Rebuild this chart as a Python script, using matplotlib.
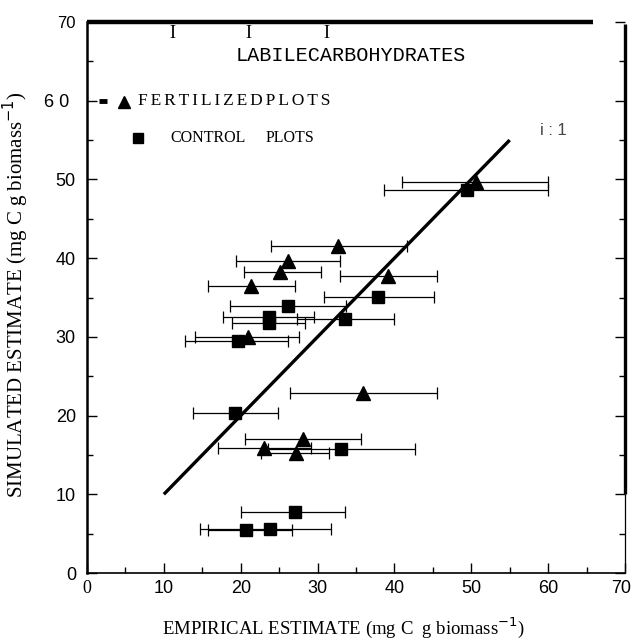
import matplotlib
matplotlib.use("Agg")
import matplotlib.pyplot as plt
from matplotlib.ticker import MultipleLocator
from matplotlib.transforms import ScaledTranslation

# ---- data (mg C g biomass^-1) ----
fert_x = [50.6, 32.7, 26.1, 25.1, 39.2, 21.4, 20.9, 35.9, 28.1, 23.0, 27.2]
fert_y = [49.7, 41.5, 39.6, 38.2, 37.7, 36.4, 30.0, 22.9, 17.0, 15.9, 15.2]
fert_lo = [41.0, 24.0, 19.4, 20.4, 32.9, 15.8, 14.1, 26.4, 20.5, 17.1, 22.7]
fert_hi = [60.0, 41.6, 32.9, 30.5, 45.6, 27.0, 27.6, 45.5, 35.6, 29.1, 31.5]

ctrl_x = [49.4, 37.9, 26.1, 23.7, 23.7, 33.6, 19.6, 19.3, 33.0, 27.0, 20.7, 23.8]
ctrl_y = [48.7, 35.1, 33.9, 32.5, 31.8, 32.3, 29.5, 20.3, 15.8, 7.8, 5.4, 5.6]
ctrl_lo = [38.6, 30.8, 18.6, 17.7, 18.9, 27.3, 12.7, 13.8, 23.5, 20.1, 15.8, 14.7]
ctrl_hi = [60.0, 45.2, 33.7, 29.6, 28.4, 40.0, 26.2, 24.9, 42.7, 33.6, 26.7, 31.8]

one_to_one = [10, 55]

x_ticks = [0, 10, 20, 30, 40, 50, 60, 70]
x_ticklabels = ["0", "10", "20", "30", "40", "50", "60", "70"]
y_ticks = [0, 10, 20, 30, 40, 50, 60, 70]
y_ticklabels = ["0", "10", "20", "30", "40", "50", "6 0", "70"]

serif = "Liberation Serif"
sans = "Liberation Sans"
mono = "Liberation Mono"

fig = plt.figure(figsize=(6.31, 6.40), dpi=100)
ax = fig.add_axes([87 / 631, 1 - 573 / 640, (625 - 87) / 631, (573 - 22) / 640])
ax.set_xlim(0, 70)
ax.set_ylim(0, 70)

# error bars
def xerr(xs, lo, hi):
    return [[x - l for x, l in zip(xs, lo)], [h - x for x, h in zip(xs, hi)]]

ax.errorbar(fert_x, fert_y, xerr=xerr(fert_x, fert_lo, fert_hi), fmt="none",
            ecolor="black", elinewidth=0.9, capsize=4, capthick=0.9, zorder=2)
ax.errorbar(ctrl_x, ctrl_y, xerr=xerr(ctrl_x, ctrl_lo, ctrl_hi), fmt="none",
            ecolor="black", elinewidth=0.9, capsize=4, capthick=0.9, zorder=2)

# 1:1 line
ax.plot(one_to_one, one_to_one, color="black", lw=2.4, zorder=3, solid_capstyle="butt")

ax.plot(fert_x, fert_y, linestyle="none", marker="^", markersize=9.5,
        color="black", zorder=4)
ax.plot(ctrl_x, ctrl_y, linestyle="none", marker="s", markersize=8,
        color="black", zorder=4)

# spines
ax.spines["top"].set_visible(False)
ax.spines["right"].set_visible(False)
ax.spines["left"].set_linewidth(1.8)
ax.spines["bottom"].set_linewidth(1.2)
ax.plot([0, 65.8], [70, 70], color="black", lw=3.2, clip_on=False, solid_capstyle="butt")
ax.plot([70, 70], [10, 69.7], color="black", lw=2.4, clip_on=False, solid_capstyle="butt")
ax.plot([70, 70], [0, 10], color="black", lw=0.9, clip_on=False, solid_capstyle="butt")

# ticks
ax.set_xticks(x_ticks)
ax.set_xticklabels(x_ticklabels)
ax.set_yticks(y_ticks)
ax.set_yticklabels(y_ticklabels)
ax.xaxis.set_minor_locator(MultipleLocator(5))
ax.yaxis.set_minor_locator(MultipleLocator(5))
ax.tick_params(which="both", direction="in", top=False, right=True)
ax.tick_params(which="major", length=7, width=1.0)
ax.tick_params(which="minor", length=4, width=1.0)
ax.tick_params(axis="x", pad=5)
ax.tick_params(axis="y", pad=8)
for lab in ax.get_xticklabels() + ax.get_yticklabels():
    lab.set_fontfamily(sans)
    lab.set_fontsize(13)
ax.get_xticklabels()[0].set_fontfamily(serif)
ax.get_yticklabels()[-1].set_fontsize(12)
xl70 = ax.get_xticklabels()[-1]
xl70.set_transform(xl70.get_transform() + ScaledTranslation(-4 / 100, 0, fig.dpi_scale_trans))
yl60 = ax.get_yticklabels()[-2]
yl60.set_transform(yl60.get_transform() + ScaledTranslation(-7 / 100, 0, fig.dpi_scale_trans))

ax.set_xlabel("EMPIRICAL ESTIMATE (mg C  g biomass$^{-1}$)", fontfamily=serif,
              fontsize=13.5, labelpad=11)
ax.xaxis.set_label_coords(0.476, -0.077)
ax.set_ylabel("SIMULATED ESTIMATE (mg C g biomass$^{-1}$)", fontfamily=serif,
              fontsize=15)
ax.yaxis.set_label_coords(-0.104, 0.506)

# annotations
ax.text(34.3, 65.8, "LABILECARBOHYDRATES", fontfamily=mono, fontsize=14.5,
        ha="center", va="center")
ax.plot([1.5, 2.6], [60, 60], color="black", lw=3.5, clip_on=False,
        solid_capstyle="butt")
ax.plot([4.8], [59.9], marker="^", markersize=8.5, color="black", linestyle="none")
ax.text(6.6, 60, "\u2006".join("FERTILIZEDPLOTS"), fontfamily=[serif, "DejaVu Serif"],
        fontsize=12.5, ha="left", va="center")
ax.plot([6.7], [55.2], marker="s", markersize=7, color="black", linestyle="none")
ax.text(10.8, 55.2, "CONTROL", fontfamily=serif, fontsize=11.5, ha="left", va="center")
ax.text(23.2, 55.2, "PLOTS", fontfamily=serif, fontsize=11.5, ha="left", va="center")
ax.text(60.7, 56.2, "i : 1", fontfamily=sans, fontsize=12, color="#444444",
        ha="center", va="center")
for xi in [11.1, 21.0, 31.1]:
    ax.text(xi, 69.6, "I", fontfamily=serif, fontsize=13, ha="center", va="top")

fig.savefig("out.png", dpi=100)
